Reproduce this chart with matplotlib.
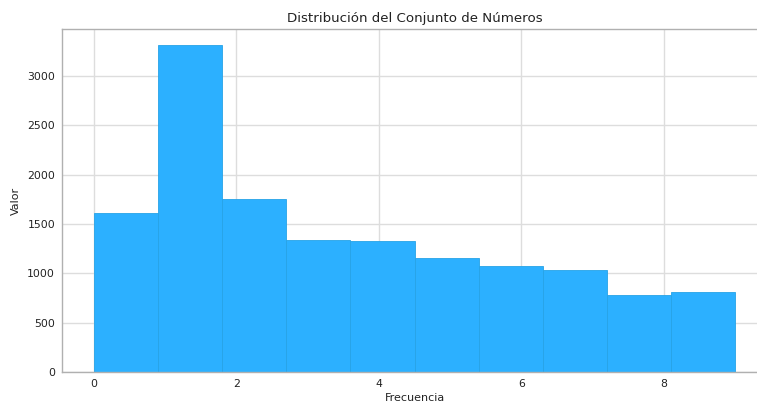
import matplotlib
matplotlib.use("Agg")
import matplotlib.pyplot as plt
import numpy as np

bin_edges = [0.0, 0.9, 1.8, 2.7, 3.6, 4.5, 5.4, 6.3, 7.2, 8.1, 9.0]
counts = [1610, 3313, 1751, 1340, 1326, 1161, 1073, 1033, 780, 807]
x_ticks = [0, 2, 4, 6, 8]
y_ticks = [0, 500, 1000, 1500, 2000, 2500, 3000]

plt.rcParams['font.family'] = ['DejaVu Sans']

fig = plt.figure(figsize=(7.57, 4.05), dpi=100)
ax = fig.add_axes([62/757, 33/405, (767-62)/757, (372-29)/405])

centers = [(a + b) / 2 for a, b in zip(bin_edges[:-1], bin_edges[1:])]
ax.hist(centers, bins=bin_edges, weights=counts, color='#2cb0ff',
        edgecolor='#27a3e6', linewidth=0.6, zorder=2)

ax.set_xticks(x_ticks)
ax.set_yticks(y_ticks)
ax.grid(True, color='#dddddd', linewidth=1.0, zorder=0)
ax.set_axisbelow(True)
for s in ['left', 'bottom', 'top']:
    ax.spines[s].set_color('#b0b0b0')
    ax.spines[s].set_linewidth(1.0)
ax.spines['right'].set_visible(False)
ax.tick_params(axis='both', length=0, labelsize=7.8, colors='#222222', pad=5)

ax.set_title('Distribución del Conjunto de Números', fontsize=9.6, color='#222222', pad=5)
ax.set_xlabel('Frecuencia', fontsize=8, color='#222222', labelpad=3)
ax.set_ylabel('Valor', fontsize=8, color='#222222', labelpad=4.5)

fig.savefig('out.png', dpi=100)
